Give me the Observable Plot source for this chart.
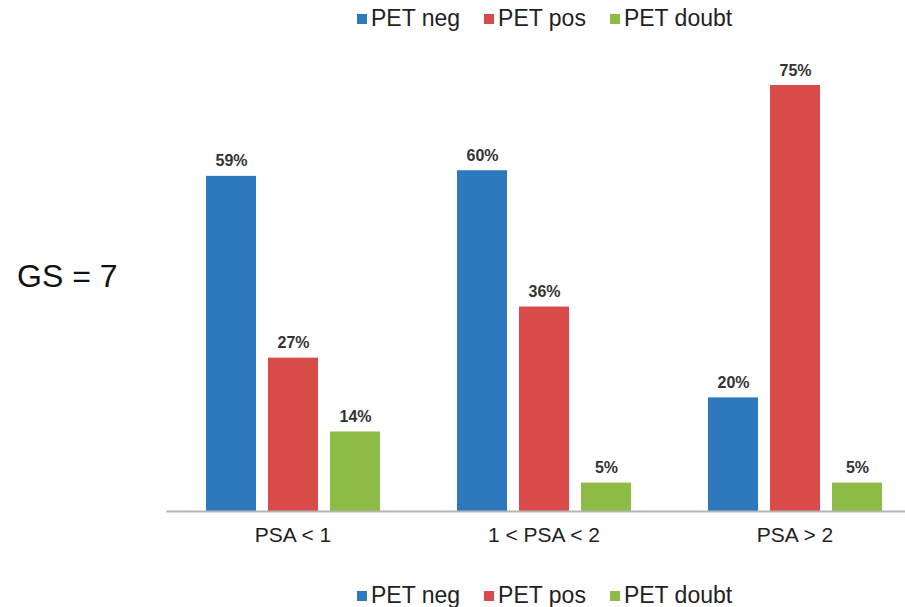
<!DOCTYPE html>
<html><head><meta charset="utf-8">
<script src="https://cdn.jsdelivr.net/npm/d3@7"></script>
<script src="https://cdn.jsdelivr.net/npm/@observablehq/plot@0.6"></script>
<style>
body{margin:0;background:#fff;font-family:"Liberation Sans",Arial,sans-serif;}
#wrap{position:relative;width:905px;height:607px;overflow:hidden;}
.legend{position:absolute;left:357px;display:flex;align-items:center;font-size:23px;color:#222;white-space:nowrap;}
.legend .item{display:flex;align-items:center;margin-right:24px;}
.legend .sw{width:10px;height:10px;margin-right:4px;}
#gs{position:absolute;left:17px;top:258px;font-size:32px;color:#111;}
#chart{position:absolute;left:0;top:40px;}
</style>
</head><body>
<div id="wrap">
  <div class="legend" id="legTop" style="top:5px"></div>
  <div id="gs">GS = 7</div>
  <div id="chart"></div>
  <div class="legend" id="legBot" style="top:582px"></div>
</div>
<script>
const groups = ["PSA < 1", "1 < PSA < 2", "PSA > 2"];
const series = ["PET neg", "PET pos", "PET doubt"];
const petNeg = [59, 60, 20];
const petPos = [27, 36, 75];
const petDoubt = [14, 5, 5];
const colors = ["#2E78BE", "#D94B49", "#8CBC46"];

const values = [petNeg, petPos, petDoubt];
const data = [];
groups.forEach((g, i) => series.forEach((s, j) => data.push({group: g, series: s, value: values[j][i]})));

function legend(el) {
  series.forEach((s, j) => {
    const it = document.createElement("div");
    it.className = "item";
    it.innerHTML = `<span class="sw" style="background:${colors[j]}"></span><span>${s}</span>`;
    el.appendChild(it);
  });
}
legend(document.getElementById("legTop"));
legend(document.getElementById("legBot"));

const chart = Plot.plot({
  width: 905,
  height: 530,
  marginLeft: 155,
  marginRight: 0,
  marginTop: 45,
  marginBottom: 59,
  style: {fontFamily: "'Liberation Sans', Arial, sans-serif", background: "transparent"},
  fx: {domain: groups, range: [167, 920], padding: 0, label: null},
  x: {domain: series, paddingInner: 0.2, paddingOuter: 0.6, axis: null},
  y: {domain: [0, 75], axis: null},
  color: {domain: series, range: colors},
  marks: [
    Plot.barY(data, {fx: "group", x: "series", y: "value", fill: "series"}),
    Plot.frame({anchor: "bottom", facet: "super", stroke: "#b4b4b4", strokeWidth: 2}),
    Plot.text(data, {fx: "group", x: "series", y: "value", text: d => d.value + "%", dy: -10, lineAnchor: "bottom", fontWeight: "bold", fontSize: 16, fill: "#333"}),
    Plot.axisFx({anchor: "bottom", tickSize: 0, tickPadding: 16, fontSize: 21, fill: "#222", label: null})
  ]
});
document.getElementById("chart").appendChild(chart);
</script>
</body></html>
